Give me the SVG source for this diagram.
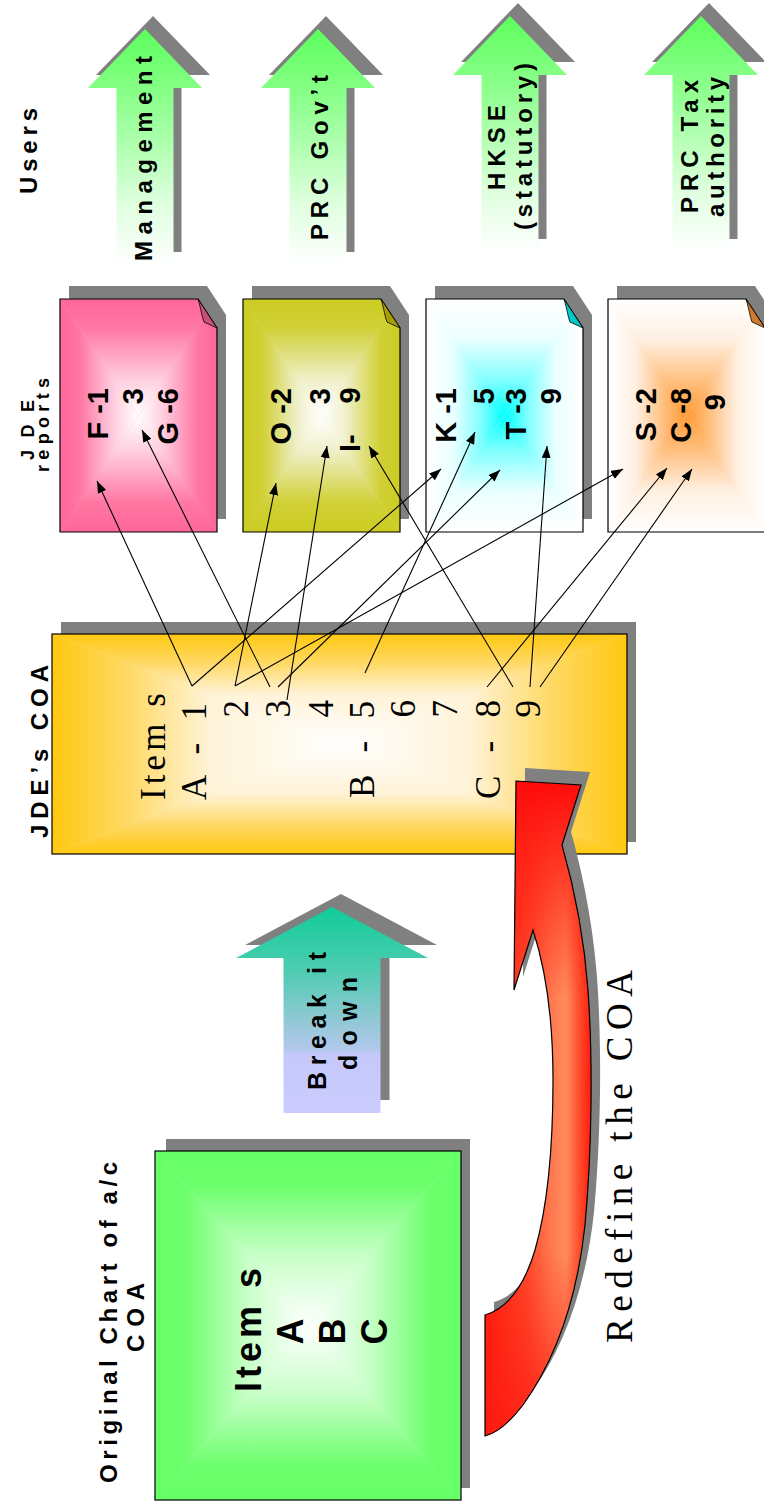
<svg xmlns="http://www.w3.org/2000/svg" xmlns:xlink="http://www.w3.org/1999/xlink" width="764" height="1502" viewBox="0 0 764 1502">
<style>
.lbl{font-family:"Liberation Sans",Arial,sans-serif;font-weight:bold;fill:#000}
.ser{font-family:"Liberation Serif","Times New Roman",serif;fill:#000}
.sh{fill:#808080}
.edge{fill:none;stroke:#000;stroke-width:1.2}
.conn line{stroke:#000;stroke-width:1.1;marker-end:url(#ah)}
</style>
<defs>
<marker id="ah" viewBox="0 0 12 9" refX="12" refY="4.5" markerWidth="12" markerHeight="9" markerUnits="userSpaceOnUse" orient="auto"><path d="M0,0L12,4.5L0,9Z" fill="#000"/></marker>
<linearGradient id="gUp" x1="0" y1="0" x2="0" y2="1"><stop offset="0" stop-color="#5cff5c"/><stop offset="0.3" stop-color="#8cff8c"/><stop offset="0.75" stop-color="#e0ffe0"/><stop offset="1" stop-color="#ffffff"/></linearGradient>
<linearGradient id="gBrk" x1="0" y1="0" x2="0" y2="1"><stop offset="0" stop-color="#10cc99"/><stop offset="0.3" stop-color="#4cccb0"/><stop offset="0.55" stop-color="#90c8d4"/><stop offset="0.7" stop-color="#b4c8ee"/><stop offset="0.705" stop-color="#c4c8f8"/><stop offset="1" stop-color="#ccccff"/></linearGradient>
<linearGradient id="pkT" x1="0" y1="0" x2="0" y2="1"><stop offset="0" stop-color="#ff6699"/><stop offset="0.25" stop-color="#ff77a3"/><stop offset="0.7" stop-color="#ffd0e0"/><stop offset="1" stop-color="#ffffff"/></linearGradient>
<linearGradient id="pkB" xlink:href="#pkT" y1="1" y2="0"/><linearGradient id="pkL" xlink:href="#pkT" x2="1" y2="0"/><linearGradient id="pkR" xlink:href="#pkT" x1="1" x2="0" y2="0"/>
<linearGradient id="olT" x1="0" y1="0" x2="0" y2="1"><stop offset="0" stop-color="#cccc22"/><stop offset="0.25" stop-color="#d0d036"/><stop offset="0.7" stop-color="#f0f0cc"/><stop offset="1" stop-color="#ffffff"/></linearGradient>
<linearGradient id="olB" xlink:href="#olT" y1="1" y2="0"/><linearGradient id="olL" xlink:href="#olT" x2="1" y2="0"/><linearGradient id="olR" xlink:href="#olT" x1="1" x2="0" y2="0"/>
<linearGradient id="cyT" x1="0" y1="0" x2="0" y2="1"><stop offset="0" stop-color="#ffffff"/><stop offset="0.35" stop-color="#eaffff"/><stop offset="0.7" stop-color="#80ffff"/><stop offset="1" stop-color="#00ffff"/></linearGradient>
<linearGradient id="cyB" xlink:href="#cyT" y1="1" y2="0"/><linearGradient id="cyL" xlink:href="#cyT" x2="1" y2="0"/><linearGradient id="cyR" xlink:href="#cyT" x1="1" x2="0" y2="0"/>
<linearGradient id="orT" x1="0" y1="0" x2="0" y2="1"><stop offset="0" stop-color="#ffffff"/><stop offset="0.35" stop-color="#fff0e2"/><stop offset="0.7" stop-color="#ffc080"/><stop offset="1" stop-color="#ff9933"/></linearGradient>
<linearGradient id="orB" xlink:href="#orT" y1="1" y2="0"/><linearGradient id="orL" xlink:href="#orT" x2="1" y2="0"/><linearGradient id="orR" xlink:href="#orT" x1="1" x2="0" y2="0"/>
<linearGradient id="yeT" x1="0" y1="0" x2="0" y2="1"><stop offset="0" stop-color="#ffc80f"/><stop offset="0.25" stop-color="#ffd860"/><stop offset="0.55" stop-color="#fff3d8"/><stop offset="1" stop-color="#ffffff"/></linearGradient>
<linearGradient id="yeB" xlink:href="#yeT" y1="1" y2="0"/><linearGradient id="yeL" xlink:href="#yeT" x2="1" y2="0"/><linearGradient id="yeR" xlink:href="#yeT" x1="1" x2="0" y2="0"/>
<linearGradient id="grT" x1="0" y1="0" x2="0" y2="1"><stop offset="0" stop-color="#66ff66"/><stop offset="0.2" stop-color="#6cff6c"/><stop offset="0.6" stop-color="#c8ffc8"/><stop offset="1" stop-color="#ffffff"/></linearGradient>
<linearGradient id="grB" xlink:href="#grT" y1="1" y2="0"/><linearGradient id="grL" xlink:href="#grT" x2="1" y2="0"/><linearGradient id="grR" xlink:href="#grT" x1="1" x2="0" y2="0"/>
<linearGradient id="redH" gradientUnits="userSpaceOnUse" x1="485" y1="0" x2="593" y2="0"><stop offset="0" stop-color="#ff1c0c"/><stop offset="0.4" stop-color="#ff4a2c"/><stop offset="0.62" stop-color="#ff7a50"/><stop offset="0.75" stop-color="#ff8c5e"/><stop offset="0.88" stop-color="#ff4a2a"/><stop offset="1" stop-color="#ff1208"/></linearGradient>
<linearGradient id="redV" gradientUnits="userSpaceOnUse" x1="0" y1="781" x2="0" y2="1000"><stop offset="0" stop-color="#ff0a0a" stop-opacity="1"/><stop offset="0.4" stop-color="#ff1a10" stop-opacity="0.7"/><stop offset="1" stop-color="#ff1a10" stop-opacity="0"/></linearGradient>
<linearGradient id="redBt" gradientUnits="userSpaceOnUse" x1="0" y1="1250" x2="0" y2="1436"><stop offset="0" stop-color="#ff1a10" stop-opacity="0"/><stop offset="1" stop-color="#ff1a10" stop-opacity="0.8"/></linearGradient>
<path id="redP" d="M516,781 L581,785 L562,845 C572,880 584,935 588,990 C593,1060 592,1150 585,1225 C577,1300 555,1360 523,1405 C510,1422 497,1433 485,1436 L485,1315 C505,1309 523,1290 535,1250 C548,1205 553,1140 553,1080 C553,1020 546,970 533,930 L514,990 Z"/>
<clipPath id="cF"><path d="M60,299H198L217,328V532H60Z"/></clipPath>
<clipPath id="cO"><path d="M243,299H381L400,328V532H243Z"/></clipPath>
<clipPath id="cK"><path d="M426,299H564L583,328V532H426Z"/></clipPath>
<clipPath id="cS"><path d="M608,299H746L765,328V532H608Z"/></clipPath>
</defs>
<rect width="764" height="1502" fill="#fff"/>

<!-- Users arrows -->
<g id="arrow-management">
<polygon class="sh" points="153,16 210,75 181.5,75 181.5,252 124.5,252 124.5,75 96,75"/>
<polygon fill="url(#gUp)" points="145,29 202,88 173.5,88 173.5,265 116.5,265 116.5,88 88,88"/>
<text class="lbl" font-size="24" transform="rotate(-90)" x="-158.5" y="152" text-anchor="middle" textLength="205" lengthAdjust="spacing">Management</text>
</g>
<g id="arrow-prc-gov">
<polygon class="sh" points="326,16 383,75 354.5,75 354.5,252 297.5,252 297.5,75 269,75"/>
<polygon fill="url(#gUp)" points="318,29 375,88 346.5,88 346.5,265 289.5,265 289.5,88 261,88"/>
<text class="lbl" font-size="24" transform="rotate(-90)" x="-157.5" y="328" text-anchor="middle" textLength="165" lengthAdjust="spacing">PRC Gov’t</text>
</g>
<g id="arrow-hkse">
<polygon class="sh" points="518,3 575,62 546.5,62 546.5,239 489.5,239 489.5,62 461,62"/>
<polygon fill="url(#gUp)" points="510,16 567,75 538.5,75 538.5,252 481.5,252 481.5,75 453,75"/>
<text class="lbl" font-size="24" transform="rotate(-90)" x="-147.5" y="505" text-anchor="middle" textLength="85" lengthAdjust="spacing">HKSE</text>
<text class="lbl" font-size="24" transform="rotate(-90)" x="-146.5" y="532" text-anchor="middle" textLength="167" lengthAdjust="spacing">(statutory)</text>
</g>
<g id="arrow-prc-tax">
<polygon class="sh" points="709,3 766,62 737.5,62 737.5,239 680.5,239 680.5,62 652,62"/>
<polygon fill="url(#gUp)" points="701,16 758,75 729.5,75 729.5,252 672.5,252 672.5,75 644,75"/>
<text class="lbl" font-size="24" transform="rotate(-90)" x="-146.5" y="698" text-anchor="middle" textLength="133" lengthAdjust="spacing">PRC Tax</text>
<text class="lbl" font-size="24" transform="rotate(-90)" x="-147" y="724" text-anchor="middle" textLength="140" lengthAdjust="spacing">authority</text>
</g>

<!-- Report documents -->
<g id="doc-f">
<path class="sh" d="M69,286H207L226,315V519H69Z"/>
<g clip-path="url(#cF)">
<rect x="60" y="299" width="157" height="233" fill="#ffa0c0"/>
<polygon points="60,299 217,299 138.5,415.5" fill="url(#pkT)"/>
<polygon points="60,532 217,532 138.5,415.5" fill="url(#pkB)"/>
<polygon points="60,299 60,532 138.5,415.5" fill="url(#pkL)"/>
<polygon points="217,299 217,532 138.5,415.5" fill="url(#pkR)"/>
</g>
<path class="edge" d="M60,299H198L217,328V532H60Z"/>
<path d="M198,299C201,309 202,317 204,322L217,328Z" fill="#c8507a" stroke="#000" stroke-width="0.8"/>
<text class="lbl" font-size="29" transform="rotate(-90)" text-anchor="end"><tspan x="-388" y="108">F -1</tspan><tspan x="-388" y="143">3</tspan><tspan x="-388" y="178">G -6</tspan></text>
</g>
<g id="doc-o">
<path class="sh" d="M252,286H390L409,315V519H252Z"/>
<g clip-path="url(#cO)">
<rect x="243" y="299" width="157" height="233" fill="#e4e488"/>
<polygon points="243,299 400,299 321.5,415.5" fill="url(#olT)"/>
<polygon points="243,532 400,532 321.5,415.5" fill="url(#olB)"/>
<polygon points="243,299 243,532 321.5,415.5" fill="url(#olL)"/>
<polygon points="400,299 400,532 321.5,415.5" fill="url(#olR)"/>
</g>
<path class="edge" d="M243,299H381L400,328V532H243Z"/>
<path d="M381,299C384,309 385,317 387,322L400,328Z" fill="#a8a000" stroke="#000" stroke-width="0.8"/>
<text class="lbl" font-size="29" transform="rotate(-90)" text-anchor="end"><tspan x="-388" y="290.5">O -2</tspan><tspan x="-388" y="330">3</tspan></text>
<text class="lbl" font-size="29" transform="rotate(-90)"><tspan x="-452" y="360">I-</tspan><tspan x="-403.6" y="360">9</tspan></text>
</g>
<g id="doc-k">
<path class="sh" d="M435,286H573L592,315V519H435Z"/>
<g clip-path="url(#cK)">
<rect x="426" y="299" width="157" height="233" fill="#e0ffff"/>
<polygon points="426,299 583,299 504.5,415.5" fill="url(#cyT)"/>
<polygon points="426,532 583,532 504.5,415.5" fill="url(#cyB)"/>
<polygon points="426,299 426,532 504.5,415.5" fill="url(#cyL)"/>
<polygon points="583,299 583,532 504.5,415.5" fill="url(#cyR)"/>
</g>
<path class="edge" d="M426,299H564L583,328V532H426Z"/>
<path d="M564,299C567,309 568,317 570,322L583,328Z" fill="#00c8c8" stroke="#000" stroke-width="0.8"/>
<text class="lbl" font-size="29" transform="rotate(-90)" text-anchor="end"><tspan x="-388" y="456">K -1</tspan><tspan x="-388" y="494">5</tspan><tspan x="-388" y="526">T -3</tspan><tspan x="-388" y="561">9</tspan></text>
</g>
<g id="doc-s">
<path class="sh" d="M617,286H755L774,315V519H617Z"/>
<g clip-path="url(#cS)">
<rect x="608" y="299" width="157" height="233" fill="#fff0e0"/>
<polygon points="608,299 765,299 686.5,415.5" fill="url(#orT)"/>
<polygon points="608,532 765,532 686.5,415.5" fill="url(#orB)"/>
<polygon points="608,299 608,532 686.5,415.5" fill="url(#orL)"/>
<polygon points="765,299 765,532 686.5,415.5" fill="url(#orR)"/>
</g>
<path class="edge" d="M608,299H746L765,328V532H608Z"/>
<path d="M746,299C749,309 750,317 752,322L765,328Z" fill="#cc7a30" stroke="#000" stroke-width="0.8"/>
<text class="lbl" font-size="29" transform="rotate(-90)" text-anchor="end"><tspan x="-388" y="656">S -2</tspan><tspan x="-388" y="691">C -8</tspan><tspan x="-394" y="725">9</tspan></text>
</g>

<!-- JDE's COA box -->
<g id="jde-coa">
<rect class="sh" x="61" y="622" width="575" height="220"/>
<rect x="52" y="634" width="575" height="220" fill="#ffe8a0"/>
<polygon points="52,634 627,634 339.5,744" fill="url(#yeT)"/>
<polygon points="52,854 627,854 339.5,744" fill="url(#yeB)"/>
<polygon points="52,634 52,854 339.5,744" fill="url(#yeL)"/>
<polygon points="627,634 627,854 339.5,744" fill="url(#yeR)"/>
<rect class="edge" x="52" y="634" width="575" height="220"/>
<g class="ser" font-size="35" transform="rotate(-90)">
<text x="-800" y="165" textLength="107" lengthAdjust="spacing">Item s</text>
<text x="-800" y="206" textLength="97" lengthAdjust="spacing">A - 1</text>
<text x="-700" y="248" text-anchor="end">2</text>
<text x="-700" y="290" text-anchor="end">3</text>
<text x="-700" y="333" text-anchor="end">4</text>
<text x="-798" y="374" textLength="97" lengthAdjust="spacing">B - 5</text>
<text x="-700" y="415" text-anchor="end">6</text>
<text x="-700" y="457" text-anchor="end">7</text>
<text x="-799" y="500" textLength="99" lengthAdjust="spacing">C - 8</text>
<text x="-700" y="540" text-anchor="end">9</text>
</g>
</g>

<!-- Redefine curved arrow -->
<g id="redefine-arrow">
<use xlink:href="#redP" class="sh" transform="translate(9,-13)"/>
<use xlink:href="#redP" fill="url(#redH)"/>
<use xlink:href="#redP" fill="url(#redV)"/>
<use xlink:href="#redP" fill="url(#redBt)"/>
<use xlink:href="#redP" fill="none" stroke="#000" stroke-width="1.2"/>
<text class="ser" font-size="37" transform="rotate(-90)" x="-1343" y="631.7" textLength="373" lengthAdjust="spacing">Redefine the COA</text>
</g>

<!-- Break it down arrow -->
<g id="break-it-down">
<polygon class="sh" points="341,894 437,945 389.5,945 389.5,1100 292.5,1100 292.5,945 245,945"/>
<polygon fill="url(#gBrk)" points="332,907 428,958 380.5,958 380.5,1113 283.5,1113 283.5,958 236,958"/>
<text class="lbl" font-size="25" transform="rotate(-90)" x="-1021" y="326" text-anchor="middle" textLength="138" lengthAdjust="spacing">Break it</text>
<text class="lbl" font-size="25" transform="rotate(-90)" x="-1023.5" y="357" text-anchor="middle" textLength="93" lengthAdjust="spacing">down</text>
</g>

<!-- Original chart box -->
<g id="original-coa">
<rect class="sh" x="166" y="1139" width="304" height="349"/>
<rect x="155" y="1151" width="306" height="349" fill="#b0ffb0"/>
<polygon points="155,1151 461,1151 308,1325.5" fill="url(#grT)"/>
<polygon points="155,1500 461,1500 308,1325.5" fill="url(#grB)"/>
<polygon points="155,1151 155,1500 308,1325.5" fill="url(#grL)"/>
<polygon points="461,1151 461,1500 308,1325.5" fill="url(#grR)"/>
<rect class="edge" x="155" y="1151" width="306" height="349"/>
<g class="lbl" font-size="36" transform="rotate(-90)" text-anchor="middle">
<text x="-1330" y="261" textLength="124" lengthAdjust="spacing">Item s</text>
<text x="-1331.5" y="303">A</text>
<text x="-1331.5" y="345">B</text>
<text x="-1331.5" y="387">C</text>
</g>
</g>

<!-- Labels -->
<g id="labels">
<text class="lbl" font-size="24" transform="rotate(-90)" x="-151" y="36.5" text-anchor="middle" textLength="86" lengthAdjust="spacing">Users</text>
<text class="lbl" font-size="18" transform="rotate(-90)" x="-430" y="34" text-anchor="middle" textLength="60" lengthAdjust="spacing">JDE</text>
<text class="lbl" font-size="18" transform="rotate(-90)" x="-425" y="49" text-anchor="middle" textLength="94" lengthAdjust="spacing">reports</text>
<text class="lbl" font-size="24" transform="rotate(-90)" x="-751.5" y="47.5" text-anchor="middle" textLength="173" lengthAdjust="spacing">JDE’s COA</text>
<text class="lbl" font-size="24" transform="rotate(-90)" x="-1322.5" y="116.5" text-anchor="middle" textLength="321" lengthAdjust="spacing">Original Chart of a/c</text>
<text class="lbl" font-size="24" transform="rotate(-90)" x="-1317.5" y="143.5" text-anchor="middle" textLength="69" lengthAdjust="spacing">COA</text>
</g>

<!-- Connectors -->
<g id="connectors" class="conn">
<line x1="192" y1="686" x2="97" y2="481"/>
<line x1="192" y1="686" x2="441" y2="469"/>
<line x1="235" y1="686" x2="276" y2="483"/>
<line x1="235" y1="686" x2="623" y2="469"/>
<line x1="270" y1="687" x2="142" y2="430"/>
<line x1="278" y1="687" x2="500" y2="470"/>
<line x1="287" y1="700" x2="327" y2="446"/>
<line x1="365" y1="673" x2="475" y2="432"/>
<line x1="487" y1="687" x2="667" y2="468"/>
<line x1="513" y1="687" x2="369" y2="446"/>
<line x1="530" y1="687" x2="547" y2="446"/>
<line x1="540" y1="687" x2="692" y2="469"/>
</g>
</svg>
